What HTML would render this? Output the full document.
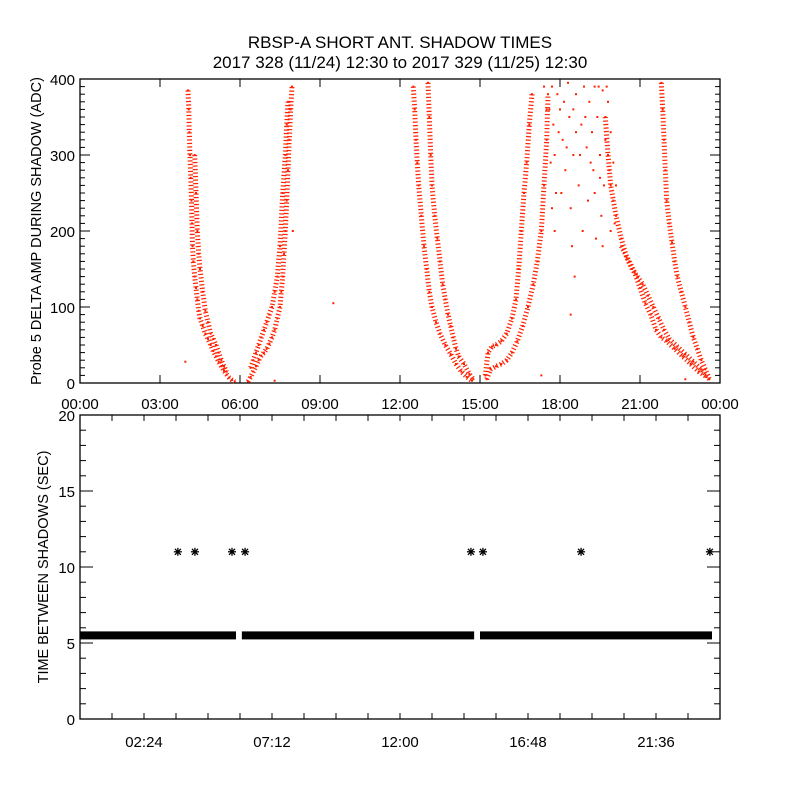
<!DOCTYPE html>
<html><head><meta charset="utf-8"><style>
body{margin:0;background:#fff}
svg{display:block;font-family:"Liberation Sans",sans-serif}
</style></head><body>
<svg id="c" width="800" height="800" xmlns="http://www.w3.org/2000/svg">
<rect width="800" height="800" fill="#fff"/>
<text x="400" y="48" text-anchor="middle" font-size="17">RBSP-A SHORT ANT. SHADOW TIMES</text>
<text x="400" y="68" text-anchor="middle" font-size="17">2017 328 (11/24) 12:30 to 2017 329 (11/25) 12:30</text>
<g id="topG"></g><g id="botG"></g>
</svg>
<script>
const topXTicks=["00:00","03:00","06:00","09:00","12:00","15:00","18:00","21:00","00:00"];
const topYTicks=[0,100,200,300,400];
const botXTicks=["02:24","07:12","12:00","16:48","21:36"];
const botYTicks=[0,5,10,15,20];
const strandA=[[4.05,385],[4.08,360],[4.1,330],[4.12,300],[4.15,270],[4.18,240],[4.2,210],[4.22,180],[4.25,160],[4.3,140],[4.35,125],[4.4,110],[4.45,95],[4.5,85],[4.6,75],[4.7,65],[4.8,58],[4.9,50],[5.0,42],[5.1,35],[5.2,28],[5.3,22],[5.4,16],[5.5,11],[5.6,7],[5.7,4],[5.8,2]];
const strandB=[[4.3,300],[4.35,250],[4.4,200],[4.45,170],[4.5,150],[4.6,120],[4.7,95],[4.8,80],[4.9,65],[5.0,58],[5.1,50],[5.2,40],[5.3,30],[5.4,22],[5.5,15]];
const strandC=[[6.3,2],[6.4,8],[6.5,15],[6.6,22],[6.7,30],[6.8,36],[6.9,40],[7.0,45],[7.1,52],[7.2,60],[7.3,70],[7.4,85],[7.5,100],[7.55,120],[7.6,140],[7.65,170],[7.7,200],[7.75,240],[7.8,280],[7.85,320],[7.9,360],[7.95,390]];
const strandD=[[6.4,20],[6.5,30],[6.6,40],[6.7,50],[6.8,60],[6.9,70],[7.0,80],[7.1,90],[7.2,100],[7.3,120],[7.4,140],[7.5,180],[7.6,250],[7.7,300],[7.75,340],[7.8,370]];
const strandE=[[12.5,390],[12.55,360],[12.6,320],[12.65,290],[12.7,260],[12.8,220],[12.9,180],[13.0,150],[13.1,120],[13.2,100],[13.35,80],[13.5,65],[13.7,50],[13.9,38],[14.1,25],[14.3,15],[14.5,8],[14.7,3]];
const strandF=[[13.05,395],[13.1,350],[13.15,300],[13.2,260],[13.3,220],[13.4,190],[13.5,160],[13.6,130],[13.7,110],[13.8,90],[13.9,75],[14.0,60],[14.1,45],[14.2,35],[14.4,25],[14.6,12],[14.75,5]];
const strandG=[[15.2,10],[15.3,40],[15.45,48],[15.6,50],[15.8,55],[16.0,65],[16.2,85],[16.35,110],[16.45,150],[16.55,200],[16.65,250],[16.75,290],[16.85,340],[16.95,380]];
const strandH=[[15.25,5],[15.4,18],[15.6,22],[15.8,25],[16.0,30],[16.2,40],[16.4,55],[16.6,75],[16.8,100],[17.0,130],[17.15,160],[17.3,200],[17.4,260],[17.5,320],[17.55,380]];
const strandI=[[19.7,350],[19.8,300],[19.9,260],[20.1,220],[20.3,190],[20.5,165],[20.7,150],[20.9,140],[21.1,130],[21.3,115],[21.5,100],[21.7,85],[21.9,70],[22.1,58],[22.4,48],[22.7,38],[23.0,28],[23.3,18],[23.6,5]];
const strandJ=[[20.3,180],[20.6,160],[20.8,145],[21.0,125],[21.2,105],[21.4,90],[21.6,70],[21.8,60],[22.0,55],[22.3,45],[22.6,35],[22.9,25],[23.2,15],[23.5,8]];
const strandK=[[21.8,395],[21.85,360],[21.9,320],[21.95,280],[22.0,240],[22.1,210],[22.2,185],[22.3,160],[22.4,140],[22.55,120],[22.7,100],[22.85,80],[23.0,60],[23.15,45],[23.3,30],[23.45,18],[23.6,6]];
const scatterPts=[[17.7,390],[17.75,340],[17.8,300],[17.85,250],[17.9,380],[18.0,360],[18.1,320],[18.2,280],[18.3,395],[18.35,350],[18.4,230],[18.5,300],[18.6,380],[18.7,260],[18.8,340],[18.85,200],[18.9,390],[19.0,310],[19.05,240],[19.1,370],[19.2,330],[19.25,280],[19.3,390],[19.4,350],[19.5,300],[19.55,220],[19.6,385],[19.65,260],[19.75,390],[19.9,330],[20.0,290],[20.1,260],[17.6,360],[18.45,180],[18.55,140],[19.35,190],[7.98,200],[9.5,105],[17.3,10],[18.4,90],[22.7,5],[3.95,28],[7.3,3],
[17.65,290],[17.7,230],[17.8,200],[17.95,330],[18.05,250],[18.15,370],[18.25,310],[18.5,360],[18.6,330],[18.75,300],[18.95,350],[19.15,290],[19.3,250],[19.45,390],[19.5,270],[19.7,320],[19.8,370],[19.85,280],[20.0,240],[20.05,210],[19.9,200],[19.6,180],[17.5,360],[17.4,390]];
const strands=[strandA,strandB,strandC,strandD,strandE,strandF,strandG,strandH,strandI,strandJ,strandK];
const bandValue=5.5;
const bandStarts=[0,6.07,15.0];
const bandEnds=[5.85,14.78,23.7];
const starHours=[3.67,4.31,5.70,6.19,14.66,15.11,18.79,23.62];
const starValues=[11,11,11,11,11,11,11,11];

const NS="http://www.w3.org/2000/svg";
function mk(p,t,a){const e=document.createElementNS(NS,t);for(const k in a)e.setAttribute(k,a[k]);p.appendChild(e);return e;}
const L=80,R=720;
const xH=h=>L+(R-L)*h/24;
const T0=79,T1=383, yT=v=>T1-(T1-T0)*v/400;
const B0=415,B1=719, yB=v=>B1-(B1-B0)*v/20;
const gTop=document.getElementById('topG'), gBot=document.getElementById('botG');

let f=mk(gTop,'rect',{x:L,y:T0,width:R-L,height:T1-T0,fill:'none',stroke:'#000','stroke-width':1.3});


for(let v=0;v<=400;v+=10){const y=yT(v),len=v%100===0?10:5;
mk(gTop,'line',{x1:L,x2:L+len,y1:y,y2:y,stroke:'#000'});mk(gTop,'line',{x1:R,x2:R-len,y1:y,y2:y,stroke:'#000'});}
topYTicks.forEach(v=>{const t=mk(gTop,'text',{x:L-5,y:yT(v)+6,'text-anchor':'end','font-size':15});t.textContent=v;

});
topXTicks.forEach((s,i)=>{const x=xH(i*3);
mk(gTop,'line',{x1:x,x2:x,y1:T1,y2:T1-8,stroke:'#000'});mk(gTop,'line',{x1:x,x2:x,y1:T0,y2:T0+8,stroke:'#000'});
const t=mk(gTop,'text',{x:x,y:409,'text-anchor':'middle','font-size':15});t.textContent=s;

});
let yt=mk(gTop,'text',{transform:`translate(41,${(T0+T1)/2}) rotate(-90)`,'text-anchor':'middle','font-size':14.5});
yt.textContent='Probe 5 DELTA AMP DURING SHADOW (ADC)';


strands.forEach(s=>{
 const d=s.map((p,i)=>(i?'L':'M')+xH(p[0]).toFixed(1)+','+yT(p[1]).toFixed(1)).join('');
 const pth=mk(gTop,'path',{d:d,fill:'none',stroke:'#ff2000','stroke-width':5,'stroke-dasharray':'1.2 2.3'});
 
 
 s.forEach(p=>{const r=mk(gTop,'rect',{x:xH(p[0])-1,y:yT(p[1])-1,width:2,height:2,fill:'#ff2000'});
 
 });
});
scatterPts.forEach(p=>{const r=mk(gTop,'rect',{x:xH(p[0])-1,y:yT(p[1])-1,width:2,height:2,fill:'#ff2000'});

});

f=mk(gBot,'rect',{x:L,y:B0,width:R-L,height:B1-B0,fill:'none',stroke:'#000','stroke-width':1.3});


for(let v=0;v<=20;v+=1){const y=yB(v),len=v%5===0?13:6;
mk(gBot,'line',{x1:L,x2:L+len,y1:y,y2:y,stroke:'#000'});mk(gBot,'line',{x1:R,x2:R-len,y1:y,y2:y,stroke:'#000'});}
botYTicks.forEach(v=>{const t=mk(gBot,'text',{x:L-5,y:yB(v)+6,'text-anchor':'end','font-size':15});t.textContent=v;

});
for(let k=1;k<20;k++){const x=xH(k*1.2);
mk(gBot,'line',{x1:x,x2:x,y1:B1,y2:B1-6,stroke:'#000'});mk(gBot,'line',{x1:x,x2:x,y1:B0,y2:B0+6,stroke:'#000'});}
botXTicks.forEach((s,i)=>{const x=xH(2.4+i*4.8);
const t=mk(gBot,'text',{x:x,y:747,'text-anchor':'middle','font-size':15});t.textContent=s;

});
yt=mk(gBot,'text',{transform:`translate(48,${(B0+B1)/2}) rotate(-90)`,'text-anchor':'middle','font-size':14.5});
yt.textContent='TIME BETWEEN SHADOWS (SEC)';


bandStarts.forEach((s,i)=>{const r=mk(gBot,'rect',{x:xH(s),y:yB(bandValue)-4,width:xH(bandEnds[i])-xH(s),height:8,fill:'#000'});

});
starHours.forEach((h,i)=>{const cx=xH(h),cy=yB(starValues[i]);
const g=mk(gBot,'g',{stroke:'#000','stroke-width':1.3});


mk(g,'line',{x1:cx-4,x2:cx+4,y1:cy,y2:cy});mk(g,'line',{x1:cx,x2:cx,y1:cy-4,y2:cy+4});
mk(g,'line',{x1:cx-3,x2:cx+3,y1:cy-3,y2:cy+3});mk(g,'line',{x1:cx-3,x2:cx+3,y1:cy+3,y2:cy-3});});
</script>
</body></html>
